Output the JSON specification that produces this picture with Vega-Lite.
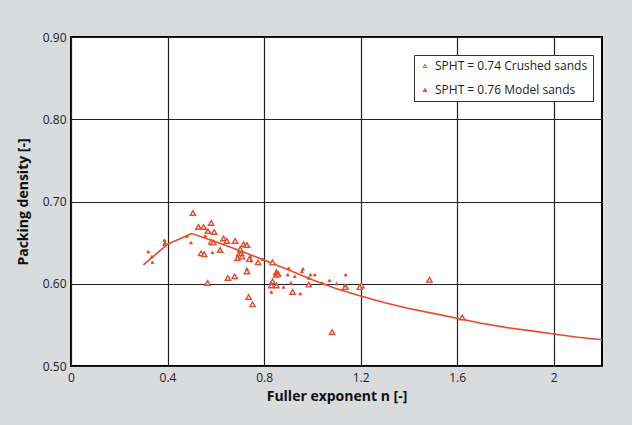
{
  "$schema": "https://vega.github.io/schema/vega-lite/v6.json",
  "width": 531,
  "height": 329,
  "autosize": {"type": "none"},
  "padding": {"left": 71, "top": 37, "right": 30, "bottom": 59},
  "background": "#dadbdc",
  "config": {
    "view": {"fill": "white", "stroke": "#000", "strokeWidth": 2},
    "font": "Open Sans"
  },
  "datasets": {
    "curve": [
      {"n": 0.30, "d": 0.623}, {"n": 0.40, "d": 0.648}, {"n": 0.50, "d": 0.661},
      {"n": 0.60, "d": 0.651}, {"n": 0.70, "d": 0.640}, {"n": 0.80, "d": 0.629},
      {"n": 0.90, "d": 0.617}, {"n": 1.00, "d": 0.605}, {"n": 1.10, "d": 0.594},
      {"n": 1.20, "d": 0.585}, {"n": 1.30, "d": 0.577}, {"n": 1.40, "d": 0.570},
      {"n": 1.50, "d": 0.564}, {"n": 1.60, "d": 0.558}, {"n": 1.70, "d": 0.552},
      {"n": 1.80, "d": 0.547}, {"n": 1.90, "d": 0.543}, {"n": 2.00, "d": 0.539},
      {"n": 2.10, "d": 0.535}, {"n": 2.20, "d": 0.532}
    ],
    "points": [
      {"series": "SPHT = 0.74 Crushed sands", "n": 0.505, "d": 0.686},
      {"series": "SPHT = 0.74 Crushed sands", "n": 0.528, "d": 0.669},
      {"series": "SPHT = 0.74 Crushed sands", "n": 0.549, "d": 0.669},
      {"series": "SPHT = 0.74 Crushed sands", "n": 0.581, "d": 0.674},
      {"series": "SPHT = 0.74 Crushed sands", "n": 0.567, "d": 0.664},
      {"series": "SPHT = 0.74 Crushed sands", "n": 0.593, "d": 0.663},
      {"series": "SPHT = 0.74 Crushed sands", "n": 0.581, "d": 0.651},
      {"series": "SPHT = 0.74 Crushed sands", "n": 0.590, "d": 0.650},
      {"series": "SPHT = 0.74 Crushed sands", "n": 0.632, "d": 0.655},
      {"series": "SPHT = 0.74 Crushed sands", "n": 0.646, "d": 0.652},
      {"series": "SPHT = 0.74 Crushed sands", "n": 0.680, "d": 0.652},
      {"series": "SPHT = 0.74 Crushed sands", "n": 0.715, "d": 0.648},
      {"series": "SPHT = 0.74 Crushed sands", "n": 0.729, "d": 0.647},
      {"series": "SPHT = 0.74 Crushed sands", "n": 0.701, "d": 0.642},
      {"series": "SPHT = 0.74 Crushed sands", "n": 0.698, "d": 0.637},
      {"series": "SPHT = 0.74 Crushed sands", "n": 0.705, "d": 0.637},
      {"series": "SPHT = 0.74 Crushed sands", "n": 0.618, "d": 0.641},
      {"series": "SPHT = 0.74 Crushed sands", "n": 0.539, "d": 0.637},
      {"series": "SPHT = 0.74 Crushed sands", "n": 0.552, "d": 0.636},
      {"series": "SPHT = 0.74 Crushed sands", "n": 0.690, "d": 0.631},
      {"series": "SPHT = 0.74 Crushed sands", "n": 0.708, "d": 0.633},
      {"series": "SPHT = 0.74 Crushed sands", "n": 0.739, "d": 0.630},
      {"series": "SPHT = 0.74 Crushed sands", "n": 0.775, "d": 0.626},
      {"series": "SPHT = 0.74 Crushed sands", "n": 0.835, "d": 0.626},
      {"series": "SPHT = 0.74 Crushed sands", "n": 0.729, "d": 0.615},
      {"series": "SPHT = 0.74 Crushed sands", "n": 0.650, "d": 0.607},
      {"series": "SPHT = 0.74 Crushed sands", "n": 0.678, "d": 0.609},
      {"series": "SPHT = 0.74 Crushed sands", "n": 0.566, "d": 0.601},
      {"series": "SPHT = 0.74 Crushed sands", "n": 0.736, "d": 0.584},
      {"series": "SPHT = 0.74 Crushed sands", "n": 0.752, "d": 0.575},
      {"series": "SPHT = 0.74 Crushed sands", "n": 0.851, "d": 0.614},
      {"series": "SPHT = 0.74 Crushed sands", "n": 0.851, "d": 0.611},
      {"series": "SPHT = 0.74 Crushed sands", "n": 0.858, "d": 0.612},
      {"series": "SPHT = 0.74 Crushed sands", "n": 0.835, "d": 0.603},
      {"series": "SPHT = 0.74 Crushed sands", "n": 0.830, "d": 0.598},
      {"series": "SPHT = 0.74 Crushed sands", "n": 0.851, "d": 0.598},
      {"series": "SPHT = 0.74 Crushed sands", "n": 0.918, "d": 0.590},
      {"series": "SPHT = 0.74 Crushed sands", "n": 0.985, "d": 0.599},
      {"series": "SPHT = 0.74 Crushed sands", "n": 1.137, "d": 0.596},
      {"series": "SPHT = 0.74 Crushed sands", "n": 1.203, "d": 0.598},
      {"series": "SPHT = 0.74 Crushed sands", "n": 1.196, "d": 0.596},
      {"series": "SPHT = 0.74 Crushed sands", "n": 1.485, "d": 0.605},
      {"series": "SPHT = 0.74 Crushed sands", "n": 1.621, "d": 0.559},
      {"series": "SPHT = 0.74 Crushed sands", "n": 1.082, "d": 0.541},
      {"series": "SPHT = 0.76 Model sands", "n": 0.320, "d": 0.639},
      {"series": "SPHT = 0.76 Model sands", "n": 0.335, "d": 0.633},
      {"series": "SPHT = 0.76 Model sands", "n": 0.337, "d": 0.626},
      {"series": "SPHT = 0.76 Model sands", "n": 0.387, "d": 0.653},
      {"series": "SPHT = 0.76 Model sands", "n": 0.390, "d": 0.650},
      {"series": "SPHT = 0.76 Model sands", "n": 0.386, "d": 0.648},
      {"series": "SPHT = 0.76 Model sands", "n": 0.480, "d": 0.658},
      {"series": "SPHT = 0.76 Model sands", "n": 0.497, "d": 0.650},
      {"series": "SPHT = 0.76 Model sands", "n": 0.556, "d": 0.658},
      {"series": "SPHT = 0.76 Model sands", "n": 0.586, "d": 0.638},
      {"series": "SPHT = 0.76 Model sands", "n": 0.729, "d": 0.618},
      {"series": "SPHT = 0.76 Model sands", "n": 0.743, "d": 0.633},
      {"series": "SPHT = 0.76 Model sands", "n": 0.747, "d": 0.628},
      {"series": "SPHT = 0.76 Model sands", "n": 0.794, "d": 0.630},
      {"series": "SPHT = 0.76 Model sands", "n": 0.856, "d": 0.613},
      {"series": "SPHT = 0.76 Model sands", "n": 0.902, "d": 0.619},
      {"series": "SPHT = 0.76 Model sands", "n": 0.898, "d": 0.611},
      {"series": "SPHT = 0.76 Model sands", "n": 0.927, "d": 0.609},
      {"series": "SPHT = 0.76 Model sands", "n": 0.957, "d": 0.615},
      {"series": "SPHT = 0.76 Model sands", "n": 0.961, "d": 0.618},
      {"series": "SPHT = 0.76 Model sands", "n": 0.992, "d": 0.611},
      {"series": "SPHT = 0.76 Model sands", "n": 1.010, "d": 0.611},
      {"series": "SPHT = 0.76 Model sands", "n": 0.830, "d": 0.590},
      {"series": "SPHT = 0.76 Model sands", "n": 0.881, "d": 0.596},
      {"series": "SPHT = 0.76 Model sands", "n": 0.911, "d": 0.601},
      {"series": "SPHT = 0.76 Model sands", "n": 0.950, "d": 0.588},
      {"series": "SPHT = 0.76 Model sands", "n": 0.985, "d": 0.607},
      {"series": "SPHT = 0.76 Model sands", "n": 1.040, "d": 0.601},
      {"series": "SPHT = 0.76 Model sands", "n": 1.071, "d": 0.604},
      {"series": "SPHT = 0.76 Model sands", "n": 1.100, "d": 0.600},
      {"series": "SPHT = 0.76 Model sands", "n": 1.138, "d": 0.611},
      {"series": "SPHT = 0.76 Model sands", "n": 1.134, "d": 0.598}
    ]
  },
  "encoding": {
    "x": {
      "field": "n", "type": "quantitative",
      "scale": {"domain": [0, 2.2], "nice": false, "zero": false},
      "axis": {
        "values": [0, 0.4, 0.8, 1.2, 1.6, 2], "format": "~g",
        "grid": true, "gridColor": "#222", "gridWidth": 1.2,
        "ticks": false, "domain": false,
        "labelFontSize": 12, "labelColor": "#222", "labelPadding": 6,
        "labelFlush": false,
        "title": "Fuller exponent n [-]", "titleFontSize": 14, "titleFontWeight": "bold",
        "titleColor": "#111", "titlePadding": 6
      }
    },
    "y": {
      "field": "d", "type": "quantitative",
      "scale": {"domain": [0.5, 0.9], "nice": false, "zero": false},
      "axis": {
        "values": [0.5, 0.6, 0.7, 0.8, 0.9], "format": ".2f",
        "grid": true, "gridColor": "#222", "gridWidth": 1.2,
        "ticks": false, "domain": false,
        "labelFontSize": 12, "labelColor": "#222", "labelPadding": 5,
        "labelFlush": false,
        "title": "Packing density [-]", "titleFontSize": 14, "titleFontWeight": "bold",
        "titleColor": "#111", "titlePadding": 12
      }
    }
  },
  "layer": [
    {
      "data": {"name": "curve"},
      "mark": {"type": "line", "color": "#e84a27", "strokeWidth": 1.6, "clip": true}
    },
    {
      "data": {"name": "points"},
      "transform": [{"filter": "datum.series === 'SPHT = 0.74 Crushed sands'"}],
      "mark": {"type": "point", "shape": "triangle-up", "filled": true, "stroke": "#e84a27", "strokeWidth": 1.4, "opacity": 1, "size": 28},
      "encoding": {
        "fill": {
          "field": "series", "type": "nominal",
          "scale": {"domain": ["SPHT = 0.74 Crushed sands", "SPHT = 0.76 Model sands"], "range": ["white", "#e84a27"]},
          "legend": {
            "title": null, "orient": "none", "legendX": 343, "legendY": 18,
            "fillColor": "white", "strokeColor": "#333", "padding": 5,
            "labelFontSize": 12, "labelColor": "#222", "rowPadding": 12,
            "symbolStrokeColor": "#e84a27", "symbolStrokeWidth": 1, "symbolSize": 14,
            "symbolType": "triangle-up", "labelOffset": 4
          }
        }
      }
    },
    {
      "data": {"name": "points"},
      "transform": [{"filter": "datum.series === 'SPHT = 0.76 Model sands'"}],
      "mark": {"type": "point", "shape": "triangle-up", "filled": true, "stroke": "#e84a27", "strokeWidth": 1, "opacity": 1, "size": 8},
      "encoding": {
        "fill": {"field": "series", "type": "nominal"}
      }
    }
  ]
}
